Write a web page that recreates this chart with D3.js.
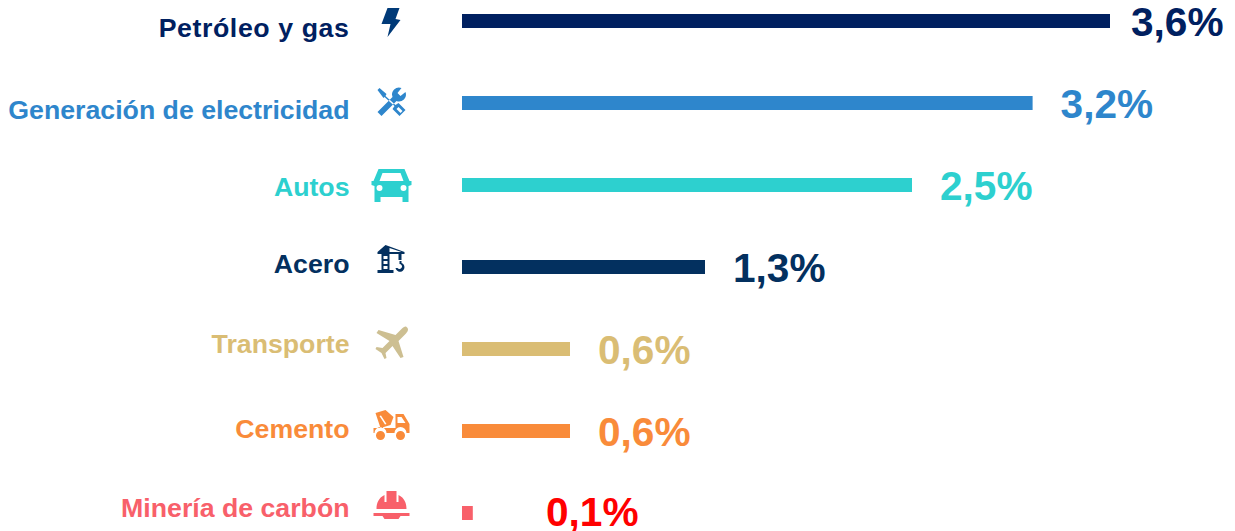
<!DOCTYPE html>
<html lang="es">
<head>
<meta charset="UTF-8">
<title>Chart</title>
<script src="https://cdn.jsdelivr.net/npm/d3@7"></script>
<style>
  html, body { margin: 0; padding: 0; background: #fff; overflow: hidden; }
  svg { display: block; font-family: "Liberation Sans", Arial, sans-serif; }
</style>
</head>
<body>
<svg width="1235" height="531"></svg>
<script>
const categories = ['Petróleo y gas', 'Generación de electricidad', 'Autos', 'Acero', 'Transporte', 'Cemento', 'Minería de carbón'];
const barValues = [3.6, 3.17, 2.5, 1.35, 0.6, 0.6, 0.06];
const valueLabels = ['3,6%', '3,2%', '2,5%', '1,3%', '0,6%', '0,6%', '0,1%'];
const barColors = ['#002060', '#2e86cc', '#2dd0cf', '#03305f', '#dabd74', '#f98b3a', '#f8606a'];
const valueColors = ['#002060', '#2e86cc', '#2dd0cf', '#03305f', '#dabd74', '#f98b3a', '#ff0000'];
const iconColors = ['#003a78', '#2e86cc', '#2dd0cf', '#03305f', '#cdbf92', '#f98b3a', '#f8606a'];

// the labels and icons don't sit exactly on the bar centre in the original
const labelDrop = [16, 16, 11, 6, 4, 7, 4];
const iconDrop = [1, -1, 1, -8, -7, -6, -8];
const valueDrop = [15, 15, 15, 15, 15, 15, 13];

// icon shapes, local pixels around the icon centre
const icons = [
  'M-4-14 L8-14 L4-3 L9-2 L-4 15 L-1 2 L-10 2 Z',
  'M-14-12 L-12-14 L-5-8 L-6-6 L4 3 L7 1 L14 8 L8 14 L1 7 L3 4 L-7-5 L-8-4 Z M-14 10 L-10 14 L5-1 A7 7 0 0 0 14-10 L9-6 L6-9 L10-14 A7 7 0 0 0 1-5 Z',
  'M-13-17 L13-17 L18-5 L20-5 L20-1 L17 0 L17 16 L11 16 L11 11 L-11 11 L-11 16 L-17 16 L-17 0 L-20-1 L-20-5 L-18-5 Z',
  'M-6-14 L13-7 L13-5 L10-5 L10 1 L7 1 L7-5 L-2-5 L-2 11 L2 11 L2 14 L-14 14 L-14 11 L-10 11 L-10-5 L-14-5 L-14-7 Z M8 2 L10 2 L10 4 A4.5 4.5 0 1 1 4 9 L6 9 A2.5 2.5 0 1 0 8 5 Z',
  'M15-15 C18-13 16-10 14-8 L7-1 L12 15 L9 16 L1 4 L-6 11 L-5 16 L-7 17 L-10 11 L-16 7 L-15 5 L-9 6 L-2-1 L-15-9 L-13-12 L4-7 L10-13 C12-15 14-16 15-15 Z',
  'M-16-12 L-6-15 L2-8 L-1 0 L-11 3 Z M4-11 L12-11 L18-1 L18 8 L15 8 A6 6 0 0 0 3 8 L-5 8 A6 6 0 0 0 -17 8 L-18 8 L-18 3 L4 3 Z M-11 6 A4.5 4.5 0 1 0 -11 15 A4.5 4.5 0 1 0 -11 6 Z M9 6 A4.5 4.5 0 1 0 9 15 A4.5 4.5 0 1 0 9 6 Z',
  'M-5-14 L5-14 L5-3 L7-3 L7-10 C13-7 15-2 15 4 L-15 4 C-15-2 -13-7 -7-10 L-7-3 L-5-3 Z M-18 8 L18 8 L18 11 L9 11 L7 14 L-7 14 L-9 11 L-18 11 Z'
];
// white details on top of the icon shapes
const iconCutouts = [
  '',
  'M5 7 L7 5 L11 9 L9 11 Z',
  'M-9-13 L9-13 L12-5 L-12-5 Z M-12-1 A3 3 0 1 0 -12 5 A3 3 0 1 0 -12-1 Z M12-1 A3 3 0 1 0 12 5 A3 3 0 1 0 12-1 Z',
  'M-2-11 L10-7 L-2-7 Z M-8-3 L-4-3 L-4 0 L-8 0 Z M-8 2 L-4 2 L-4 5 L-8 5 Z M-8 7 L-4 7 L-4 10 L-8 10 Z',
  '',
  'M6-8 L10-8 L14-2 L6-2 Z M-12-9 L-10.5-9.5 L-5-1 L-6.5-0.5 Z',
  ''
];

const svg = d3.select('svg');
const x = d3.scaleLinear().domain([0, 3.6]).range([462, 1110]);
const y = d3.scalePoint().domain(categories).range([21, 513]);
const barHeight = 14;

const rows = svg.selectAll('g.row').data(categories).join('g').attr('class', 'row');

rows.append('rect')
  .attr('x', x(0))
  .attr('y', d => y(d) - barHeight / 2)
  .attr('width', (d, i) => x(barValues[i]) - x(0))
  .attr('height', barHeight)
  .attr('fill', (d, i) => barColors[i]);

rows.append('text')
  .attr('x', 349.5)
  .attr('y', (d, i) => y(d) + labelDrop[i])
  .attr('text-anchor', 'end')
  .attr('font-size', 26.7)
  .attr('font-weight', 'bold')
  .attr('letter-spacing', (d, i) => i === 0 ? 0.6 : 0)
  .attr('fill', (d, i) => barColors[i])
  .text(d => d);

// label follows the bar end, but stays inside 546..1131
rows.append('text')
  .attr('x', (d, i) => Math.min(1131, Math.max(x(barValues[i]) + 28, 546)))
  .attr('y', (d, i) => y(d) + valueDrop[i])
  .attr('font-size', 40.6)
  .attr('font-weight', 'bold')
  .attr('fill', (d, i) => valueColors[i])
  .text((d, i) => valueLabels[i]);

const icon = rows.append('g')
  .attr('transform', (d, i) => `translate(391.5, ${y(d) + iconDrop[i]})`);
icon.append('path')
  .attr('d', (d, i) => icons[i])
  .attr('fill', (d, i) => iconColors[i]);
icon.append('path')
  .attr('d', (d, i) => iconCutouts[i])
  .attr('fill', '#fff');
</script>
</body>
</html>
